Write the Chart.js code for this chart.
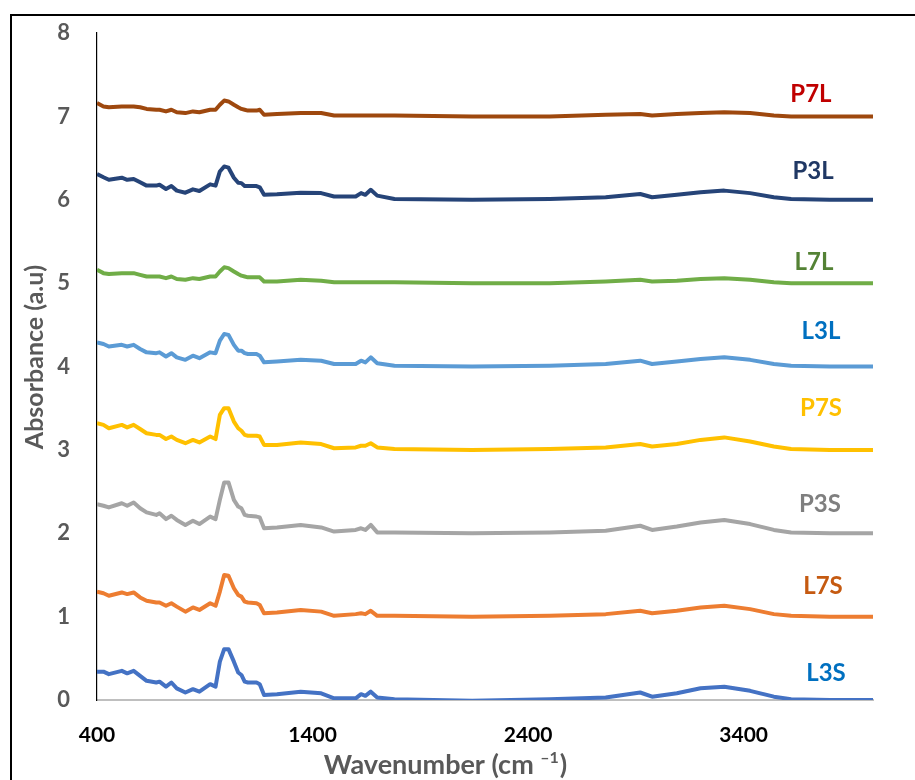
<!DOCTYPE html>
<html><head><meta charset="utf-8">
<script src="https://cdn.jsdelivr.net/npm/chart.js@4.4.1/dist/chart.umd.min.js"></script>
<style>
html,body{margin:0;padding:0;background:#fff;}
#wrap{position:relative;width:915px;height:780px;overflow:hidden;background:#fff;}
#frame{position:absolute;left:10px;top:14px;width:1000px;height:1000px;border:2px solid #000;box-sizing:border-box;}
canvas{position:absolute;left:0;top:0;}
</style></head><body>
<div id="wrap"><div id="frame"></div><canvas id="c" width="915" height="780"></canvas></div>
<script>
// Wavenumber positions (cm-1)
const wavenumbers = [400, 430, 455, 515, 540, 570, 600, 630, 675, 690, 720, 745, 770, 810, 845, 875, 925, 950, 970, 990, 1010, 1035, 1055, 1070, 1085, 1100, 1140, 1155, 1175, 1235, 1345, 1440, 1500, 1600, 1625, 1645, 1670, 1700,
  1780, 2140, 2500, 2760, 2920, 2975, 3090, 3200, 3310, 3430, 3540, 3620, 3800, 4000];

// Stacked absorbance values as plotted (a.u)
const L3S = [0.34, 0.34, 0.31, 0.35, 0.32, 0.35, 0.29, 0.23, 0.21, 0.22, 0.16, 0.21, 0.14, 0.09, 0.13, 0.10, 0.19, 0.16, 0.46, 0.61, 0.61, 0.46, 0.33, 0.30, 0.22, 0.21, 0.21, 0.19, 0.06, 0.07, 0.10, 0.08, 0.02, 0.02, 0.07, 0.05, 0.10, 0.03,
  0.01, -0.01, 0.01, 0.03, 0.09, 0.04, 0.08, 0.14, 0.16, 0.11, 0.04, 0.01, 0.00, 0.00];
const L7S = [1.30, 1.28, 1.25, 1.29, 1.27, 1.29, 1.23, 1.19, 1.17, 1.17, 1.13, 1.16, 1.12, 1.06, 1.11, 1.08, 1.16, 1.13, 1.30, 1.50, 1.49, 1.34, 1.26, 1.24, 1.18, 1.17, 1.16, 1.14, 1.04, 1.05, 1.08, 1.06, 1.01, 1.03, 1.04, 1.03, 1.07, 1.01,
  1.01, 1.00, 1.01, 1.03, 1.07, 1.04, 1.07, 1.11, 1.13, 1.09, 1.03, 1.01, 1.00, 1.00];
const P3S = [2.35, 2.33, 2.31, 2.36, 2.33, 2.37, 2.30, 2.25, 2.22, 2.24, 2.17, 2.21, 2.16, 2.10, 2.15, 2.11, 2.20, 2.17, 2.40, 2.61, 2.61, 2.40, 2.32, 2.30, 2.22, 2.21, 2.20, 2.19, 2.06, 2.07, 2.10, 2.07, 2.02, 2.04, 2.06, 2.04, 2.10, 2.01,
  2.01, 2.00, 2.01, 2.03, 2.09, 2.04, 2.08, 2.13, 2.16, 2.11, 2.04, 2.01, 2.00, 2.00];
const P7S = [3.32, 3.30, 3.26, 3.30, 3.27, 3.30, 3.25, 3.20, 3.18, 3.18, 3.13, 3.16, 3.12, 3.08, 3.12, 3.09, 3.16, 3.13, 3.42, 3.50, 3.50, 3.34, 3.26, 3.23, 3.18, 3.17, 3.17, 3.16, 3.06, 3.06, 3.09, 3.07, 3.02, 3.03, 3.05, 3.05, 3.08, 3.03,
  3.01, 3.00, 3.01, 3.03, 3.07, 3.04, 3.07, 3.12, 3.15, 3.10, 3.04, 3.01, 3.00, 3.00];
const L3L = [4.29, 4.27, 4.24, 4.26, 4.24, 4.26, 4.21, 4.17, 4.16, 4.17, 4.12, 4.16, 4.11, 4.08, 4.13, 4.10, 4.17, 4.16, 4.31, 4.39, 4.38, 4.26, 4.19, 4.19, 4.16, 4.15, 4.15, 4.13, 4.05, 4.06, 4.08, 4.07, 4.03, 4.03, 4.07, 4.05, 4.11, 4.04,
  4.01, 4.00, 4.01, 4.03, 4.07, 4.03, 4.06, 4.09, 4.11, 4.08, 4.03, 4.01, 4.00, 4.00];
const L7L = [5.16, 5.12, 5.11, 5.12, 5.12, 5.12, 5.10, 5.08, 5.08, 5.08, 5.06, 5.08, 5.05, 5.04, 5.06, 5.05, 5.08, 5.08, 5.14, 5.19, 5.18, 5.14, 5.11, 5.09, 5.08, 5.07, 5.07, 5.07, 5.02, 5.02, 5.04, 5.03, 5.01, 5.01, 5.01, 5.01, 5.01, 5.01,
  5.01, 5.00, 5.00, 5.02, 5.04, 5.02, 5.03, 5.05, 5.06, 5.04, 5.01, 5.00, 5.00, 5.00];
const P3L = [6.31, 6.27, 6.24, 6.265, 6.24, 6.25, 6.21, 6.17, 6.17, 6.18, 6.13, 6.165, 6.11, 6.085, 6.125, 6.105, 6.185, 6.17, 6.34, 6.40, 6.385, 6.265, 6.205, 6.20, 6.165, 6.165, 6.165, 6.15, 6.06, 6.065, 6.085, 6.08, 6.04, 6.04, 6.08, 6.06, 6.12, 6.05,
  6.01, 6.00, 6.01, 6.03, 6.07, 6.03, 6.06, 6.09, 6.11, 6.08, 6.03, 6.01, 6.00, 6.00];
const P7L = [7.16, 7.12, 7.11, 7.12, 7.12, 7.12, 7.11, 7.09, 7.08, 7.08, 7.06, 7.08, 7.05, 7.04, 7.06, 7.05, 7.08, 7.08, 7.14, 7.19, 7.18, 7.14, 7.11, 7.09, 7.08, 7.07, 7.07, 7.08, 7.02, 7.03, 7.04, 7.04, 7.01, 7.01, 7.01, 7.01, 7.01, 7.01,
  7.01, 7.00, 7.00, 7.02, 7.03, 7.01, 7.03, 7.04, 7.05, 7.04, 7.01, 7.00, 7.00, 7.00];

const seriesNames = ['L3S', 'L7S', 'P3S', 'P7S', 'L3L', 'L7L', 'P3L', 'P7L'];
const seriesValues = [L3S, L7S, P3S, P7S, L3L, L7L, P3L, P7L];
const lineColors = ['#4472C4', '#ED7D31', '#A5A5A5', '#FFC000', '#5B9BD5', '#70AD47', '#264478', '#9E480E'];
const labelColors = ['#0070C0', '#C55A11', '#7F7F7F', '#FFC000', '#0070C0', '#548235', '#203864', '#C00000'];
// label anchor positions in data units
const labelX = [3782, 3768, 3754, 3759, 3759, 3726, 3722, 3712];
const labelY = [0.32, 1.36, 2.35, 3.50, 4.42, 5.25, 6.34, 7.27];

const xTicks = [400, 1400, 2400, 3400];
const yTicks = [0, 1, 2, 3, 4, 5, 6, 7, 8];
const xTitle = 'Wavenumber (cm ';
const xTitleSup = '\u20131';
const xTitleEnd = ')';
const yTitle = 'Absorbance (a.u)';

const FONT = 'Lato, "Open Sans", "Noto Sans", sans-serif';

const datasets = seriesNames.map((name, i) => ({
  label: name,
  data: wavenumbers.map((w, j) => ({x: w, y: seriesValues[i][j]})),
  borderColor: lineColors[i],
  backgroundColor: lineColors[i],
  borderWidth: 4,
  pointRadius: 0,
  tension: 0,
  borderJoinStyle: 'round',
  fill: false
}));

const overlay = {
  id: 'overlay',
  afterDatasetsDraw(chart) {
    const {ctx, scales} = chart;
    ctx.save();
    ctx.font = 'bold 24px ' + FONT;
    ctx.textAlign = 'center';
    ctx.textBaseline = 'middle';
    seriesNames.forEach((n, i) => {
      ctx.fillStyle = labelColors[i];
      ctx.fillText(n, scales.x.getPixelForValue(labelX[i]), scales.y.getPixelForValue(labelY[i]));
    });
    ctx.save();
    ctx.translate(35, 357);
    ctx.rotate(-Math.PI / 2);
    ctx.font = 'bold 25px ' + FONT;
    ctx.fillStyle = '#595959';
    ctx.textAlign = 'center';
    ctx.textBaseline = 'middle';
    ctx.fillText(yTitle, 0, 0);
    ctx.restore();
    const mainFont = 'bold 27px ' + FONT;
    const supFont = 'bold 16px ' + FONT;
    ctx.font = mainFont;
    const w1 = ctx.measureText(xTitle).width;
    const w3 = ctx.measureText(xTitleEnd).width;
    ctx.font = supFont;
    const w2 = ctx.measureText(xTitleSup).width;
    const total = w1 + w2 + w3;
    const x0 = 445 - total / 2;
    const yb = 774;
    ctx.fillStyle = '#595959';
    ctx.textAlign = 'left';
    ctx.textBaseline = 'alphabetic';
    ctx.font = mainFont;
    ctx.fillText(xTitle, x0, yb);
    ctx.font = supFont;
    ctx.fillText(xTitleSup, x0 + w1, yb - 11);
    ctx.font = mainFont;
    ctx.fillText(xTitleEnd, x0 + w1 + w2 + 1, yb);
    ctx.restore();
  }
};

new Chart(document.getElementById('c'), {
  type: 'line',
  data: {datasets},
  options: {
    responsive: false,
    animation: false,
    devicePixelRatio: 1,
    layout: {padding: {top: 20, right: 42, left: 0, bottom: 0}},
    plugins: {legend: {display: false}, tooltip: {enabled: false}},
    scales: {
      x: {
        type: 'linear', min: 400, max: 4000,
        afterBuildTicks: s => { s.ticks = xTicks.map(v => ({value: v})); },
        afterFit: s => { s.height = 80; },
        grid: {display: true, color: 'rgba(0,0,0,0)', drawTicks: false},
        border: {display: true, color: '#BFBFBF', width: 2},
        ticks: {color: '#000000', font: {family: FONT, size: 21, weight: 'bold'}, padding: 23, maxRotation: 0,
          callback: v => String(v)}
      },
      y: {
        type: 'linear', min: 0, max: 8,
        afterBuildTicks: s => { s.ticks = yTicks.map(v => ({value: v})); },
        afterFit: s => { s.width = 97; },
        grid: {display: true, color: 'rgba(0,0,0,0)', drawTicks: false},
        border: {display: true, color: '#000000', width: 1.2},
        ticks: {color: '#595959', font: {family: FONT, size: 22, weight: 'bold', lineHeight: 0.55}, padding: 27,
          callback: v => String(v)}
      }
    }
  },
  plugins: [overlay]
});
</script>
</body></html>
